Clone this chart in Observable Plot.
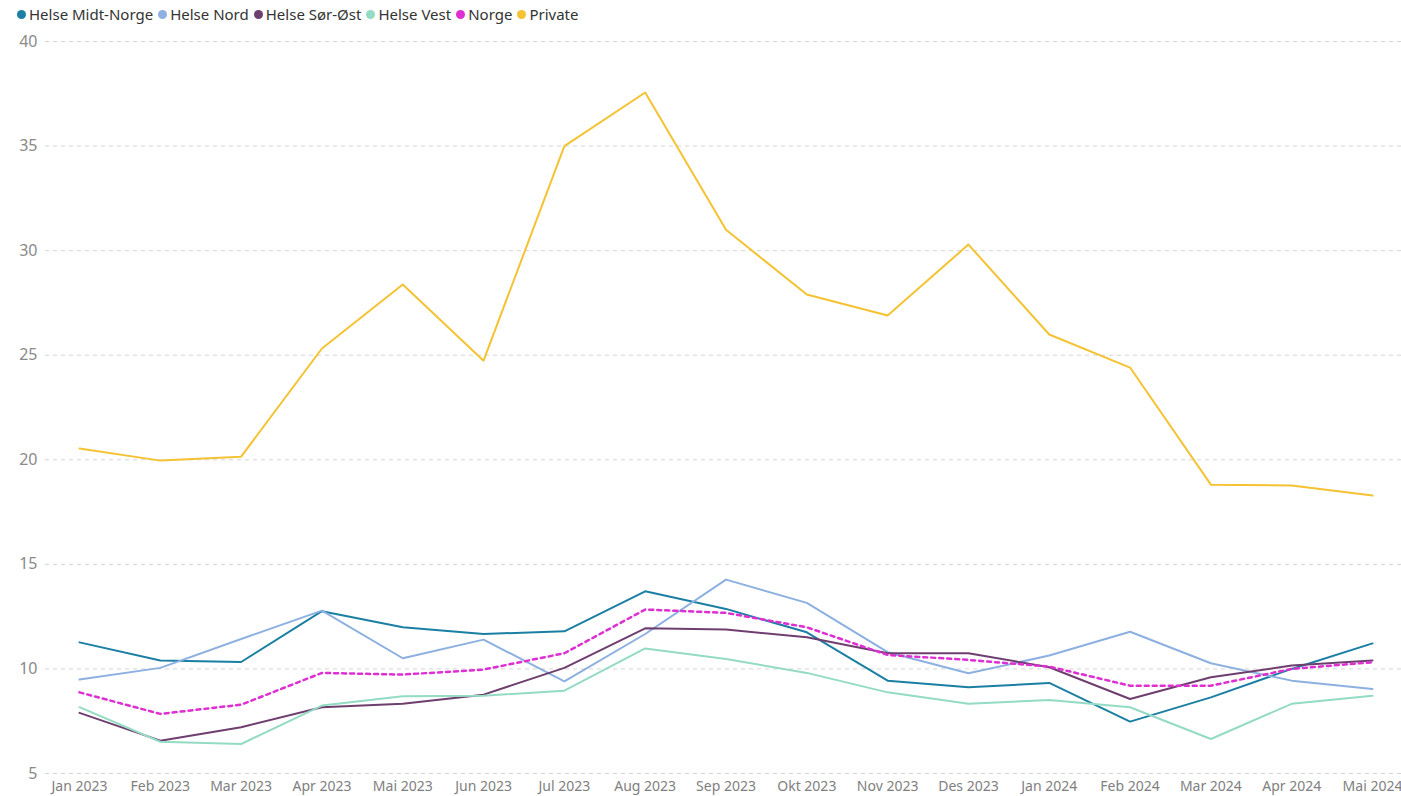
<!DOCTYPE html>
<html>
<head>
<meta charset="utf-8">
<script src="https://cdn.jsdelivr.net/npm/d3@7"></script>
<script src="https://cdn.jsdelivr.net/npm/@observablehq/plot@0.6"></script>
<style>
  html, body { margin: 0; padding: 0; background: #fff; overflow: hidden; }
  #legend { height: 28px; display: flex; align-items: center; font-family: "Noto Sans", sans-serif; font-size: 15px; color: #333; padding-left: 17px; box-sizing: border-box; }
  #legend .item { display: flex; align-items: center; margin-right: 5px; white-space: nowrap; }
  #legend .dot { width: 9px; height: 9px; border-radius: 50%; margin-right: 3px; }
</style>
</head>
<body>
<div id="legend"></div>
<div id="chart"></div>
<script>
const months = ["Jan 2023","Feb 2023","Mar 2023","Apr 2023","Mai 2023","Jun 2023","Jul 2023","Aug 2023","Sep 2023","Okt 2023","Nov 2023","Des 2023","Jan 2024","Feb 2024","Mar 2024","Apr 2024","Mai 2024"];
const seriesNames = ["Helse Midt-Norge","Helse Nord","Helse Sør-Øst","Helse Vest","Norge","Private"];
const seriesColors = ["#1B7FA3","#8DB0E0","#6E3F6E","#93DBC4","#DE2FD2","#F4C232"];

const helseMidtNorge = [11.27,10.40,10.33,12.76,11.99,11.67,11.80,13.71,12.87,11.75,9.44,9.12,9.33,7.48,8.64,10.00,11.22];
const helseNord      = [9.49,10.05,11.43,12.79,10.51,11.40,9.41,11.67,14.27,13.16,10.80,9.79,10.64,11.78,10.27,9.44,9.04];
const helseSorOst    = [7.90,6.57,7.21,8.17,8.33,8.77,10.05,11.94,11.88,11.51,10.75,10.75,10.08,8.56,9.60,10.16,10.40];
const helseVest      = [8.17,6.52,6.41,8.25,8.69,8.72,8.96,10.98,10.47,9.81,8.88,8.33,8.52,8.17,6.65,8.33,8.72];
const norge          = [8.88,7.85,8.29,9.81,9.73,9.97,10.75,12.84,12.68,11.99,10.67,10.43,10.11,9.20,9.20,10.00,10.32];
const privat         = [20.54,19.96,20.15,25.32,28.38,24.74,35.00,37.56,31.00,27.90,26.90,30.29,25.99,24.41,18.81,18.77,18.29];
const yTicks = [5,10,15,20,25,30,35,40];

const valuesBySeries = [helseMidtNorge, helseNord, helseSorOst, helseVest, norge, privat];
const data = [];
seriesNames.forEach((s, si) => {
  valuesBySeries[si].forEach((v, i) => data.push({series: s, month: months[i], value: v}));
});
const solidData = data.filter(d => d.series !== "Norge");
const norgeData = data.filter(d => d.series === "Norge");

// legend
const legend = document.getElementById("legend");
seriesNames.forEach((s, i) => {
  const it = document.createElement("div");
  it.className = "item";
  it.innerHTML = `<span class="dot" style="background:${seriesColors[i]}"></span><span>${s}</span>`;
  legend.appendChild(it);
});

const chart = Plot.plot({
  width: 1401,
  height: 768,
  marginTop: 13,
  marginBottom: 23,
  marginLeft: 45,
  marginRight: 0,
  style: {fontFamily: "'Noto Sans', sans-serif", background: "#fff", overflow: "visible"},
  x: {type: "point", domain: months, padding: 0, round: false, insetLeft: 34, insetRight: 29},
  y: {domain: [5, 40]},
  color: {domain: seriesNames, range: seriesColors},
  marks: [
    Plot.gridY(yTicks, {stroke: "#d4d4d4", strokeOpacity: 1, strokeDasharray: "4,4", strokeWidth: 1}),
    Plot.axisY({ticks: yTicks, tickSize: 0, tickPadding: 8, fontSize: 16, fill: "#8a8a8a", label: null}),
    Plot.axisX({tickSize: 0, tickPadding: 8, fontSize: 14, fill: "#808080", label: null}),
    Plot.line(solidData, {x: "month", y: "value", z: "series", stroke: "series", strokeWidth: 2}),
    Plot.line(norgeData, {x: "month", y: "value", stroke: "series", strokeWidth: 2.5, strokeDasharray: "4,4"})
  ]
});
document.getElementById("chart").appendChild(chart);
</script>
</body>
</html>
